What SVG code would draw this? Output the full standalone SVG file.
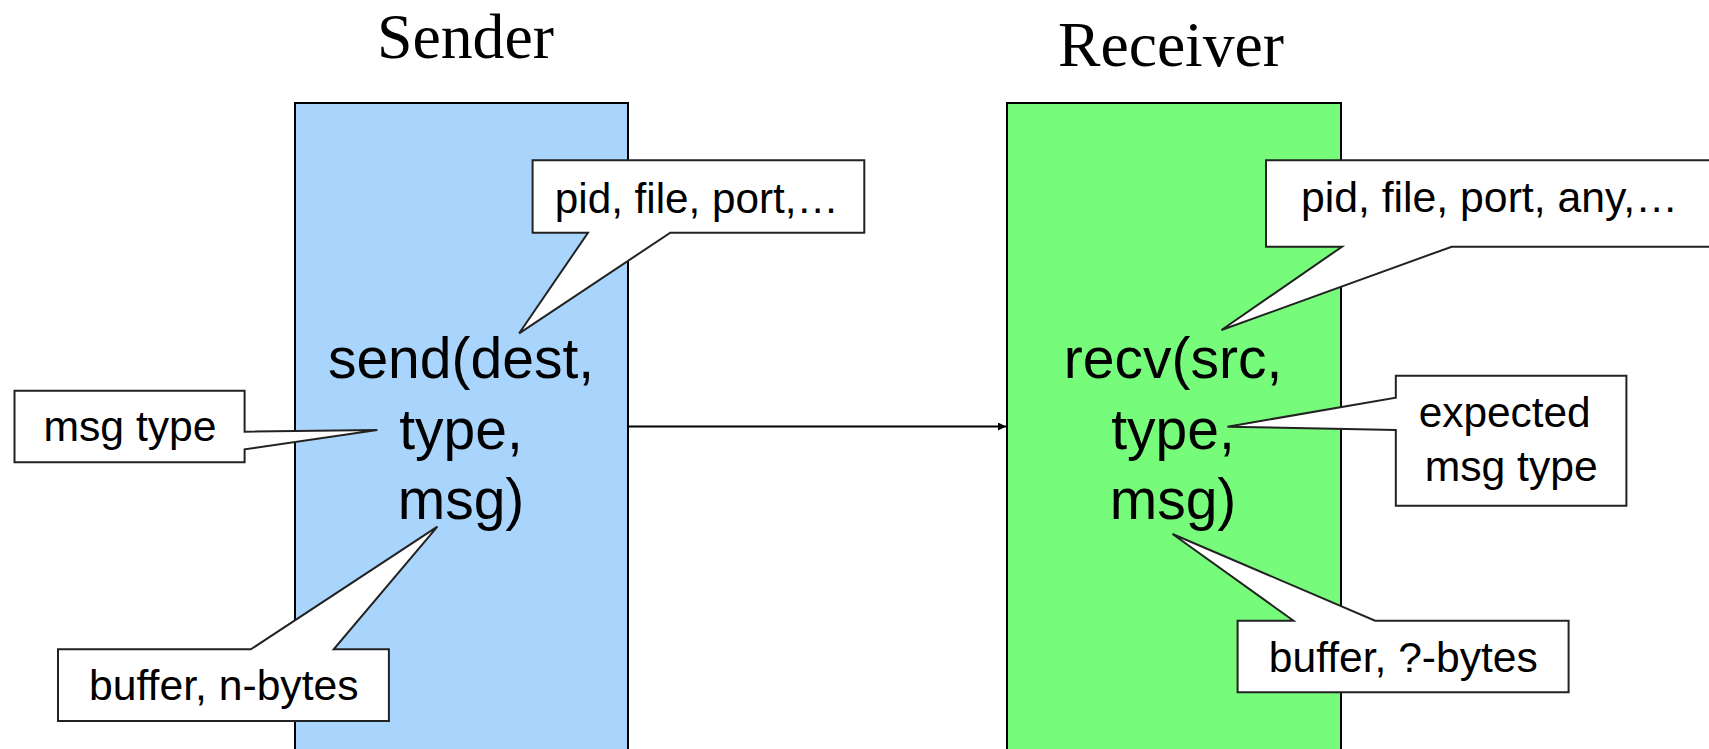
<svg xmlns="http://www.w3.org/2000/svg" width="1709" height="749" viewBox="0 0 1709 749">
<defs>
<style>
.proc{stroke:#000;stroke-width:2}
.call{fill:#fff;stroke:#222;stroke-width:2;stroke-linejoin:miter}
.ct{font-family:"Liberation Sans",Arial,sans-serif;font-size:42px;fill:#000}
.mt{font-family:"Liberation Sans",Arial,sans-serif;font-size:57px;fill:#000;text-anchor:middle}
.tt{font-family:"Liberation Serif","Times New Roman",serif;font-size:63px;fill:#000}
</style>
<marker id="ah" viewBox="0 0 10 10" refX="10" refY="5" markerWidth="8" markerHeight="8" markerUnits="userSpaceOnUse" orient="auto">
<path d="M0,0 L10,5 L0,10 Z" fill="#000"/>
</marker>
</defs>
<rect width="1709" height="749" fill="#fff"/>
<g id="title-sender"><text class="tt" x="377" y="58" textLength="177" lengthAdjust="spacingAndGlyphs">Sender</text></g>
<g id="title-receiver"><text class="tt" x="1058" y="66" textLength="226" lengthAdjust="spacingAndGlyphs">Receiver</text></g>
<g id="sender">
<rect class="proc" x="295" y="103" width="333" height="660" fill="#A9D5FD"/>
<text class="mt" x="461" y="378">send(dest,</text>
<text class="mt" x="461" y="449">type,</text>
<text class="mt" x="461" y="519">msg)</text>
</g>
<g id="receiver">
<rect class="proc" x="1007" y="103" width="334" height="660" fill="#76FB7A"/>
<text class="mt" x="1173" y="378">recv(src,</text>
<text class="mt" x="1173" y="449">type,</text>
<text class="mt" x="1173" y="519">msg)</text>
</g>
<g id="connectors">
<line x1="628" y1="426.5" x2="1006" y2="426.5" stroke="#000" stroke-width="1.8" marker-end="url(#ah)"/>
</g>
<g id="callout-send-dest">
<path class="call" d="M532.6,160.3 H864.3 V232.7 H670.3 L519.2,333.3 L588,232.7 H532.6 Z"/>
<text class="ct" x="554.8" y="213.3" textLength="284" lengthAdjust="spacingAndGlyphs">pid, file, port,…</text>
</g>
<g id="callout-send-type">
<path class="call" d="M14.5,390.7 H244.6 V431.7 L377.3,430 L244.6,449.3 V462.3 H14.5 Z"/>
<text class="ct" x="43.5" y="441" textLength="173" lengthAdjust="spacingAndGlyphs">msg type</text>
</g>
<g id="callout-send-msg">
<path class="call" d="M58,649.3 H250.8 L437.4,526.7 L333.7,649.3 H388.9 V721 H58 Z"/>
<text class="ct" x="89.1" y="700" textLength="269.5" lengthAdjust="spacingAndGlyphs">buffer, n-bytes</text>
</g>
<g id="callout-recv-src">
<path class="call" d="M1266,160.3 H1720 V246.7 H1451.7 L1221.5,330 L1342,246.7 H1266 Z"/>
<text class="ct" x="1300.9" y="211.7" textLength="377" lengthAdjust="spacingAndGlyphs">pid, file, port, any,…</text>
</g>
<g id="callout-recv-type">
<path class="call" d="M1395.8,375.7 H1626.4 V505.7 H1395.8 V430 L1227.5,426.7 L1395.8,397.7 Z"/>
<text class="ct" x="1418.7" y="426.7" textLength="172" lengthAdjust="spacingAndGlyphs">expected</text>
<text class="ct" x="1424.7" y="480.7" textLength="173" lengthAdjust="spacingAndGlyphs">msg type</text>
</g>
<g id="callout-recv-msg">
<path class="call" d="M1237.6,620.7 H1293.5 L1172.5,534 L1375.1,620.7 H1568.6 V692.3 H1237.6 Z"/>
<text class="ct" x="1268.8" y="671.7" textLength="269" lengthAdjust="spacingAndGlyphs">buffer, ?-bytes</text>
</g>
</svg>
